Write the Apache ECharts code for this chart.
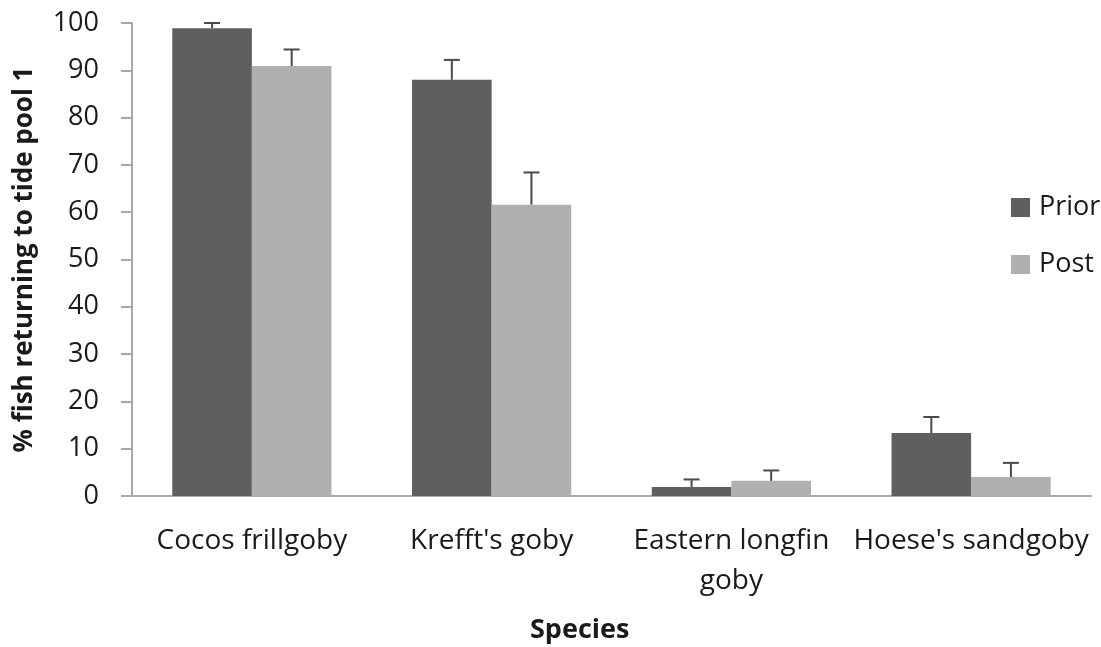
<!DOCTYPE html>
<html>
<head>
<meta charset="utf-8">
<script src="https://cdn.jsdelivr.net/npm/echarts@6/dist/echarts.min.js"></script>
<style>html,body{margin:0;padding:0;background:#fff;}#chart{width:1101px;height:647px;}</style>
</head>
<body>
<div id="chart"></div>
<script>
var categories = ["Cocos frillgoby", "Krefft's goby", "Eastern longfin\ngoby", "Hoese's sandgoby"];
var prior = [98.9, 88, 1.9, 13.3];
var post = [90.9, 61.6, 3.2, 4.0];
var priorErr = [1.1, 4.2, 1.6, 3.4];
var postErr = [3.5, 6.8, 2.2, 3.0];
var yTicks = [0, 10, 20, 30, 40, 50, 60, 70, 80, 90, 100];

var FONT = 'Open Sans';
var BAR_FRAC = 0.332;

function errData(vals, errs) {
  return vals.map(function (v, i) { return [i, v, errs[i]]; });
}
function makeErr(sign) {
  return function (params, api) {
    var i = api.value(0), v = api.value(1), e = api.value(2);
    var band = api.size([1, 0])[0];
    var off = sign * band * BAR_FRAC / 2;
    var p0 = api.coord([i, v]);
    var p1 = api.coord([i, v + e]);
    var x = p0[0] + off;
    var st = { stroke: '#4a4a4a', lineWidth: 2 };
    return {
      type: 'group',
      children: [
        { type: 'line', shape: { x1: x, y1: p0[1], x2: x, y2: p1[1] }, style: st },
        { type: 'line', shape: { x1: x - 8, y1: p1[1], x2: x + 8, y2: p1[1] }, style: st }
      ]
    };
  };
}

var chart = echarts.init(document.getElementById('chart'));
chart.setOption({
  animation: false,
  textStyle: { fontFamily: FONT },
  grid: { left: 132, right: 10, top: 23, bottom: 151, containLabel: false },
  legend: {
    data: ['Prior', 'Post'],
    orient: 'vertical',
    left: 1006,
    top: 189,
    itemWidth: 19,
    itemHeight: 19,
    itemGap: 30,
    icon: 'rect',
    textStyle: { fontFamily: FONT, fontSize: 27, color: '#1a1a1a', padding: [0, 0, 0, 4] }
  },
  xAxis: {
    type: 'category',
    data: categories,
    axisLine: { lineStyle: { color: '#a8a8a8', width: 2 } },
    axisTick: { show: false },
    axisLabel: { fontFamily: FONT, fontSize: 28, color: '#1a1a1a', margin: 25, interval: 0, lineHeight: 40 }
  },
  yAxis: {
    type: 'value',
    min: 0,
    max: 100,
    interval: 10,
    name: '% fish returning to tide pool 1',
    nameLocation: 'middle',
    nameGap: 94,
    nameTextStyle: { fontFamily: FONT, fontSize: 26, fontWeight: 'bold', color: '#1a1a1a' },
    axisLine: { show: true, lineStyle: { color: '#a8a8a8', width: 2 } },
    axisTick: { show: true, length: 11, lineStyle: { color: '#a8a8a8', width: 2 } },
    axisLabel: {
      fontFamily: FONT, fontSize: 27, color: '#1a1a1a', margin: 33,
      formatter: function (v) { return yTicks.indexOf(v) >= 0 ? String(v) : ''; }
    },
    splitLine: { show: false }
  },
  graphic: [{
    type: 'text',
    left: 530,
    top: 617,
    style: { text: 'Species', fontFamily: FONT, fontSize: 27, fontWeight: 'bold', fill: '#1a1a1a' }
  }],
  series: [
    { name: 'Prior', type: 'bar', data: prior, barWidth: (BAR_FRAC * 100) + '%', barGap: '0%',
      itemStyle: { color: '#5f5f5f' } },
    { name: 'Post', type: 'bar', data: post, barWidth: (BAR_FRAC * 100) + '%', barGap: '0%',
      itemStyle: { color: '#b0b0b0' } },
    { name: 'PriorErr', type: 'custom', data: errData(prior, priorErr), renderItem: makeErr(-1), z: 5,
      encode: { x: 0, y: 1 } },
    { name: 'PostErr', type: 'custom', data: errData(post, postErr), renderItem: makeErr(1), z: 5,
      encode: { x: 0, y: 1 } }
  ]
});
</script>
</body>
</html>
